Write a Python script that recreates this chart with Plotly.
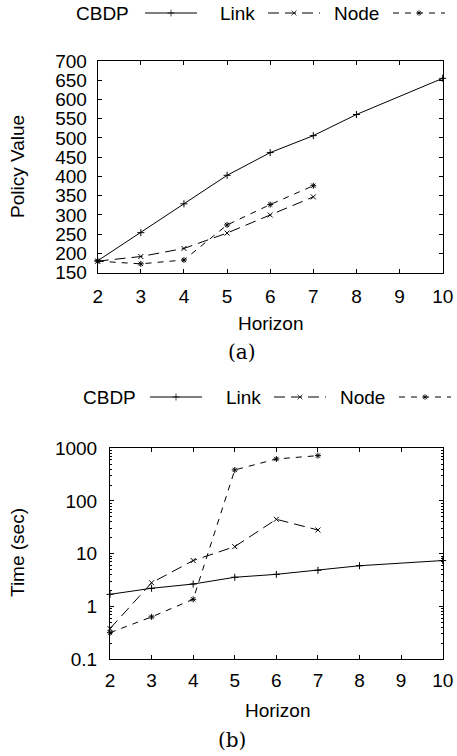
import plotly.graph_objects as go

W, H = 457, 756

horizon_cbdp = [2, 3, 4, 5, 6, 7, 8, 10]
horizon_other = [2, 3, 4, 5, 6, 7]

value_cbdp = [181, 254, 329, 403, 462, 506, 561, 655]
value_link = [180, 192, 213, 253, 300, 347]
value_node = [180, 173, 183, 274, 327, 376]

time_cbdp = [1.69, 2.2, 2.65, 3.56, 4.05, 4.83, 5.9, 7.4]
time_link = [0.377, 2.8, 7.4, 13.6, 44.9, 28.1]
time_node = [0.316, 0.63, 1.36, 388, 627, 726]

series_names = ["CBDP", "Link", "Node"]
dashes = ["solid", "11px,6px", "6px,6px"]
symbols = ["cross-thin-open", "x-thin-open", "asterisk-open"]
MS = 5

FONT = "Liberation Sans, Arial, sans-serif"
SERIF = "DejaVu Serif, Liberation Serif, serif"
FS = 19

def px_x(x):
    return x / W

def px_y(y):
    return 1 - y / H

fig = go.Figure()

top_series = [(horizon_cbdp, value_cbdp), (horizon_other, value_link), (horizon_other, value_node)]
bot_series = [(horizon_cbdp, time_cbdp), (horizon_other, time_link), (horizon_other, time_node)]

for i, (xs, ys) in enumerate(top_series):
    fig.add_trace(go.Scatter(x=xs, y=ys, mode="lines+markers", xaxis="x", yaxis="y",
                             line=dict(color="black", width=1, dash=dashes[i]),
                             marker=dict(symbol=symbols[i], size=MS, color="black",
                                         line=dict(color="black", width=1)),
                             showlegend=False, name=series_names[i], cliponaxis=False))
for i, (xs, ys) in enumerate(bot_series):
    fig.add_trace(go.Scatter(x=xs, y=ys, mode="lines+markers", xaxis="x2", yaxis="y2",
                             line=dict(color="black", width=1, dash=dashes[i]),
                             marker=dict(symbol=symbols[i], size=MS, color="black",
                                         line=dict(color="black", width=1)),
                             showlegend=False, name=series_names[i], cliponaxis=False))

# manual gnuplot-style keys (text then sample) on a pixel overlay axis
legend_rows = [
    (13, [(130, 145, 197), (256, 268, 320), (380, 393, 445)]),
    (397, [(137, 150, 202), (262, 274, 326), (386, 399, 451)]),
]
annotations = []
for ky, entries in legend_rows:
    for i, (tx, lx1, lx2) in enumerate(entries):
        fig.add_trace(go.Scatter(x=[lx1, (lx1 + lx2) / 2, lx2], y=[ky, ky, ky],
                                 mode="lines+markers", xaxis="x3", yaxis="y3",
                                 line=dict(color="black", width=1, dash=dashes[i]),
                                 marker=dict(symbol=symbols[i], size=[0, MS, 0], color="black",
                                             line=dict(color="black", width=1)),
                                 showlegend=False, hoverinfo="skip", cliponaxis=False))
        annotations.append(dict(x=px_x(tx + 1), y=px_y(ky), xref="paper", yref="paper",
                                text=series_names[i], showarrow=False, xanchor="right",
                                yanchor="middle", font=dict(family=FONT, size=FS, color="black")))

def label(x, y, text, angle=0, font=FONT, size=FS):
    return dict(x=px_x(x), y=px_y(y), text=text, xref="paper", yref="paper", showarrow=False,
                xanchor="center", yanchor="middle", textangle=angle,
                font=dict(family=font, size=size, color="black"))

annotations += [
    label(270, 323, "Horizon"),
    label(277, 710, "Horizon"),
    label(17, 167, "Policy Value", angle=-90),
    label(17, 553, "Time (sec)", angle=-90),
    label(242, 352, "(a)", font=SERIF, size=20),
    label(232, 740, "(b)", font=SERIF, size=20),
]

axis_common = dict(showline=True, mirror="ticks", linecolor="black", linewidth=1,
                   ticks="inside", ticklen=4, tickcolor="black", showgrid=False, zeroline=False,
                   automargin=False, tickfont=dict(family=FONT, size=FS, color="black"))

minor_vals = [m * 10 ** e for e in range(-1, 3) for m in range(2, 10)]

fig.update_layout(
    width=W, height=H, margin=dict(l=0, r=0, t=0, b=0, autoexpand=False),
    paper_bgcolor="white", plot_bgcolor="rgba(0,0,0,0)",
    xaxis=dict(domain=[px_x(97.7), px_x(442.7)], range=[2, 10], dtick=1, anchor="y",
               ticklabelstandoff=6, **axis_common),
    yaxis=dict(domain=[px_y(272.7), px_y(61)], range=[150, 700], dtick=50, anchor="x",
               ticklabelstandoff=6, **axis_common),
    xaxis2=dict(domain=[px_x(110), px_x(442.7)], range=[2, 10], dtick=1, anchor="y2",
                ticklabelstandoff=4, **axis_common),
    yaxis2=dict(domain=[px_y(659), px_y(448.3)], type="log", range=[-1, 3],
                tickmode="array", tickvals=[0.1, 1, 10, 100, 1000],
                ticktext=["0.1", "1", "10", "100", "1000"],
                minor=dict(ticks="inside", ticklen=2, tickcolor="black",
                           tickmode="array", tickvals=minor_vals, showgrid=False),
                ticklabelstandoff=8, anchor="x2", **axis_common),
    xaxis3=dict(domain=[0, 1], range=[0, W], visible=False, anchor="y3", fixedrange=True),
    yaxis3=dict(domain=[0, 1], range=[H, 0], visible=False, anchor="x3", fixedrange=True),
    annotations=annotations,
)

fig.write_html("out.html", config={"displayModeBar": False},
               post_script="document.body.style.margin='0';document.body.style.padding='0';")
